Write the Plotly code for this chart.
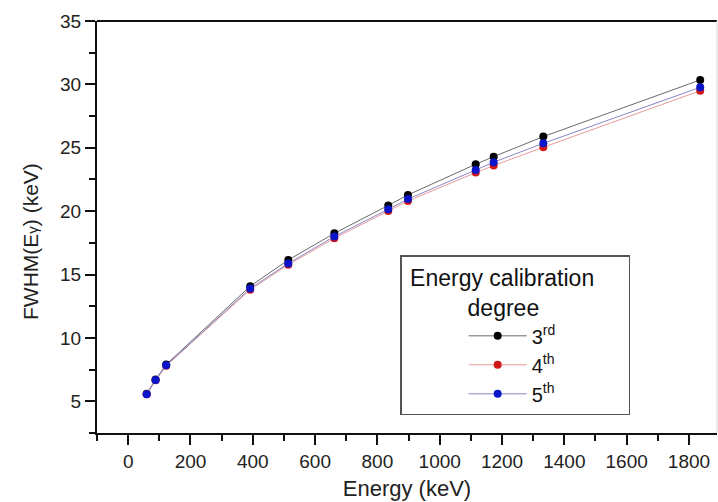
import plotly.graph_objects as go

# Gamma-ray line energies (keV)
energy = [59.5, 88.0, 122.1, 391.7, 514.0, 661.7, 834.8, 898.0, 1115.5, 1173.2, 1332.5, 1836.1]

# FWHM (keV) for each energy-calibration polynomial degree
fwhm_3rd = [5.60, 6.72, 7.90, 14.08, 16.15, 18.25, 20.45, 21.28, 23.70, 24.30, 25.88, 30.35]
fwhm_4th = [5.55, 6.66, 7.80, 13.80, 15.78, 17.86, 20.02, 20.80, 23.04, 23.60, 25.04, 29.50]
fwhm_5th = [5.55, 6.68, 7.84, 13.90, 15.88, 18.00, 20.15, 20.95, 23.25, 23.86, 25.35, 29.77]

series_names = ["3<sup>rd</sup>", "4<sup>th</sup>", "5<sup>th</sup>"]
x_ticks = [0, 200, 400, 600, 800, 1000, 1200, 1400, 1600, 1800]
y_ticks = [5, 10, 15, 20, 25, 30, 35]

FONT = "Liberation Sans, Arial, sans-serif"
NB = "\u00a0"

fig = go.Figure()

styles = [
    (fwhm_3rd, "#000000", "#6a6a6a"),
    (fwhm_4th, "#d01818", "#e89a9a"),
    (fwhm_5th, "#0a14c8", "#8a86c4"),
]
for name, (vals, mcol, lcol) in zip(series_names, styles):
    fig.add_trace(go.Scatter(
        x=energy, y=vals, name=name, mode="lines+markers",
        line=dict(color=lcol, width=1),
        marker=dict(color=mcol, size=8),
    ))

legend_title = NB + "Energy calibration" + NB * 5 + "<br>" + NB * 10 + "degree"
# trailing padding nudges the rotated title toward the lower half of the axis
y_title = "FWHM(E<span style='font-size:15px'>γ</span>) (keV)" + NB * 5 + "\u200b"

fig.update_layout(
    width=718, height=502,
    margin=dict(l=97, r=1, t=21, b=69),
    paper_bgcolor="white", plot_bgcolor="white",
    font=dict(family=FONT, color="#222222"),
    showlegend=True,
    legend=dict(
        x=0.489, y=0.432, xanchor="left", yanchor="top",
        bgcolor="white", bordercolor="#555555", borderwidth=1.5,
        font=dict(size=20, color="#111111"),
        title=dict(text=legend_title, side="top",
                   font=dict(size=23, color="#111111")),
        indentation=62, itemwidth=58, tracegroupgap=0,
    ),
    xaxis=dict(
        range=[-100, 1890], tickvals=x_ticks, ticktext=[str(v) for v in x_ticks],
        showgrid=False, zeroline=False,
        showline=True, linecolor="#111111", linewidth=2, mirror=False,
        ticks="outside", ticklen=10, tickwidth=2, tickcolor="#111111",
        minor=dict(dtick=100, tick0=-100, ticks="outside", ticklen=6, tickwidth=2, tickcolor="#111111"),
        tickfont=dict(size=19, color="#222222"),
        title=dict(text="Energy (keV)", font=dict(size=22, color="#222222"), standoff=10),
    ),
    yaxis=dict(
        range=[2.5, 35], tickvals=y_ticks, ticktext=[str(v) for v in y_ticks],
        showgrid=False, zeroline=False,
        showline=True, linecolor="#111111", linewidth=2,
        ticks="outside", ticklen=10, tickwidth=2, tickcolor="#111111",
        minor=dict(dtick=2.5, tick0=2.5, ticks="outside", ticklen=6, tickwidth=2, tickcolor="#111111"),
        tickfont=dict(size=19, color="#222222"),
        title=dict(text=y_title, font=dict(size=21, color="#222222"), standoff=16),
    ),
    shapes=[
        # top frame line and faint right frame line
        dict(type="line", xref="paper", yref="paper", x0=0, x1=1, y0=1, y1=1,
             line=dict(color="#111111", width=2)),
        dict(type="line", xref="paper", yref="paper", x0=1, x1=1, y0=0, y1=1,
             line=dict(color="#d8d8d8", width=1)),
    ],
)

fig.write_html("out.html")
